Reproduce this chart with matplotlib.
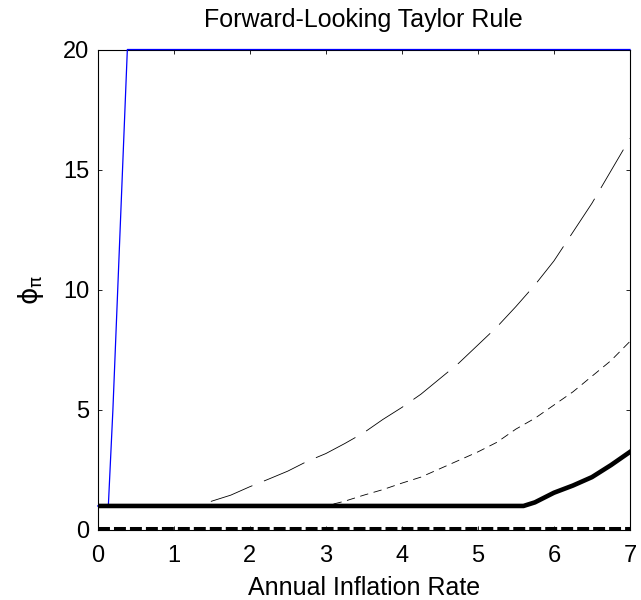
import matplotlib
matplotlib.use("Agg")
import matplotlib.pyplot as plt

plt.rcParams["font.family"] = ["Liberation Sans", "DejaVu Sans"]
plt.rcParams["mathtext.fontset"] = "custom"
plt.rcParams["mathtext.rm"] = "DejaVu Sans"
plt.rcParams["mathtext.it"] = "DejaVu Sans"
plt.rcParams["lines.scale_dashes"] = False

# blue thin line: jumps to the cap of 20 just above zero inflation
blue_x = [0.0, 0.14, 0.2, 0.39, 7.0]
blue_y = [1.0, 1.0, 5.0, 20.0, 20.0]

# long dashed curve
long_x = [0.0, 1.3, 1.5, 1.75, 2.0, 2.25, 2.5, 2.75, 3.0, 3.25, 3.5, 3.75,
          4.0, 4.25, 4.5, 4.75, 5.0, 5.25, 5.5, 5.75, 6.0, 6.25, 6.5, 6.75, 7.0]
long_y = [1.0, 1.0, 1.2, 1.45, 1.8, 2.12, 2.45, 2.85, 3.18, 3.6, 4.05, 4.6,
          5.1, 5.65, 6.3, 6.95, 7.7, 8.45, 9.3, 10.2, 11.2, 12.4, 13.6, 14.95, 16.3]

# short dashed curve
short_x = [0.0, 3.0, 3.25, 3.5, 3.75, 4.0, 4.25, 4.5, 4.75, 5.0, 5.25, 5.5,
           5.75, 6.0, 6.25, 6.5, 6.75, 7.0]
short_y = [1.0, 1.0, 1.2, 1.45, 1.68, 1.95, 2.2, 2.55, 2.9, 3.25, 3.65, 4.2,
           4.65, 5.2, 5.75, 6.4, 7.05, 7.85]

# thick solid curve
thick_x = [0.0, 5.6, 5.75, 6.0, 6.25, 6.5, 6.75, 7.0]
thick_y = [1.0, 1.0, 1.15, 1.55, 1.85, 2.2, 2.7, 3.25]

# thick dashed line at zero
zero_x = [0.0, 7.0]
zero_y = [0.05, 0.05]

x_ticks = [0, 1, 2, 3, 4, 5, 6, 7]
y_ticks = [0, 5, 10, 15, 20]

fig = plt.figure(figsize=(6.41, 6.0), dpi=100)
ax = fig.add_axes([0.1524, 0.1167, 0.8304, 0.8008])

ax.plot(zero_x, zero_y, color="black", linewidth=2.9, dashes=(8.6, 2.9), clip_on=False, zorder=3)
ax.plot(blue_x, blue_y, color="blue", linewidth=0.9, zorder=3.5, clip_on=False)
ax.plot(thick_x, thick_y, color="black", linewidth=3.3, zorder=4)
ax.plot(short_x, short_y, color="black", linewidth=0.6, dashes=(6, 4))
ax.plot(long_x, long_y, color="black", linewidth=0.6, dashes=(32, 9))

ax.set_xlim(0, 7)
ax.set_ylim(0, 20)
ax.set_xticks(x_ticks)
ax.set_yticks(y_ticks)
ax.tick_params(direction="in", length=3, width=0.6, top=True, right=True,
               labelsize=17)
ax.tick_params(axis="x", pad=11)
ax.tick_params(axis="y", pad=6)
for s in ax.spines.values():
    s.set_linewidth(0.8)

ax.set_title("Forward-Looking Taylor Rule", fontsize=18, pad=16)
ax.set_xlabel("Annual Inflation Rate", fontsize=18, labelpad=6)
ax.set_ylabel(r"$\phi_\pi$", fontsize=19, labelpad=12)

fig.savefig("out.png", dpi=100)
